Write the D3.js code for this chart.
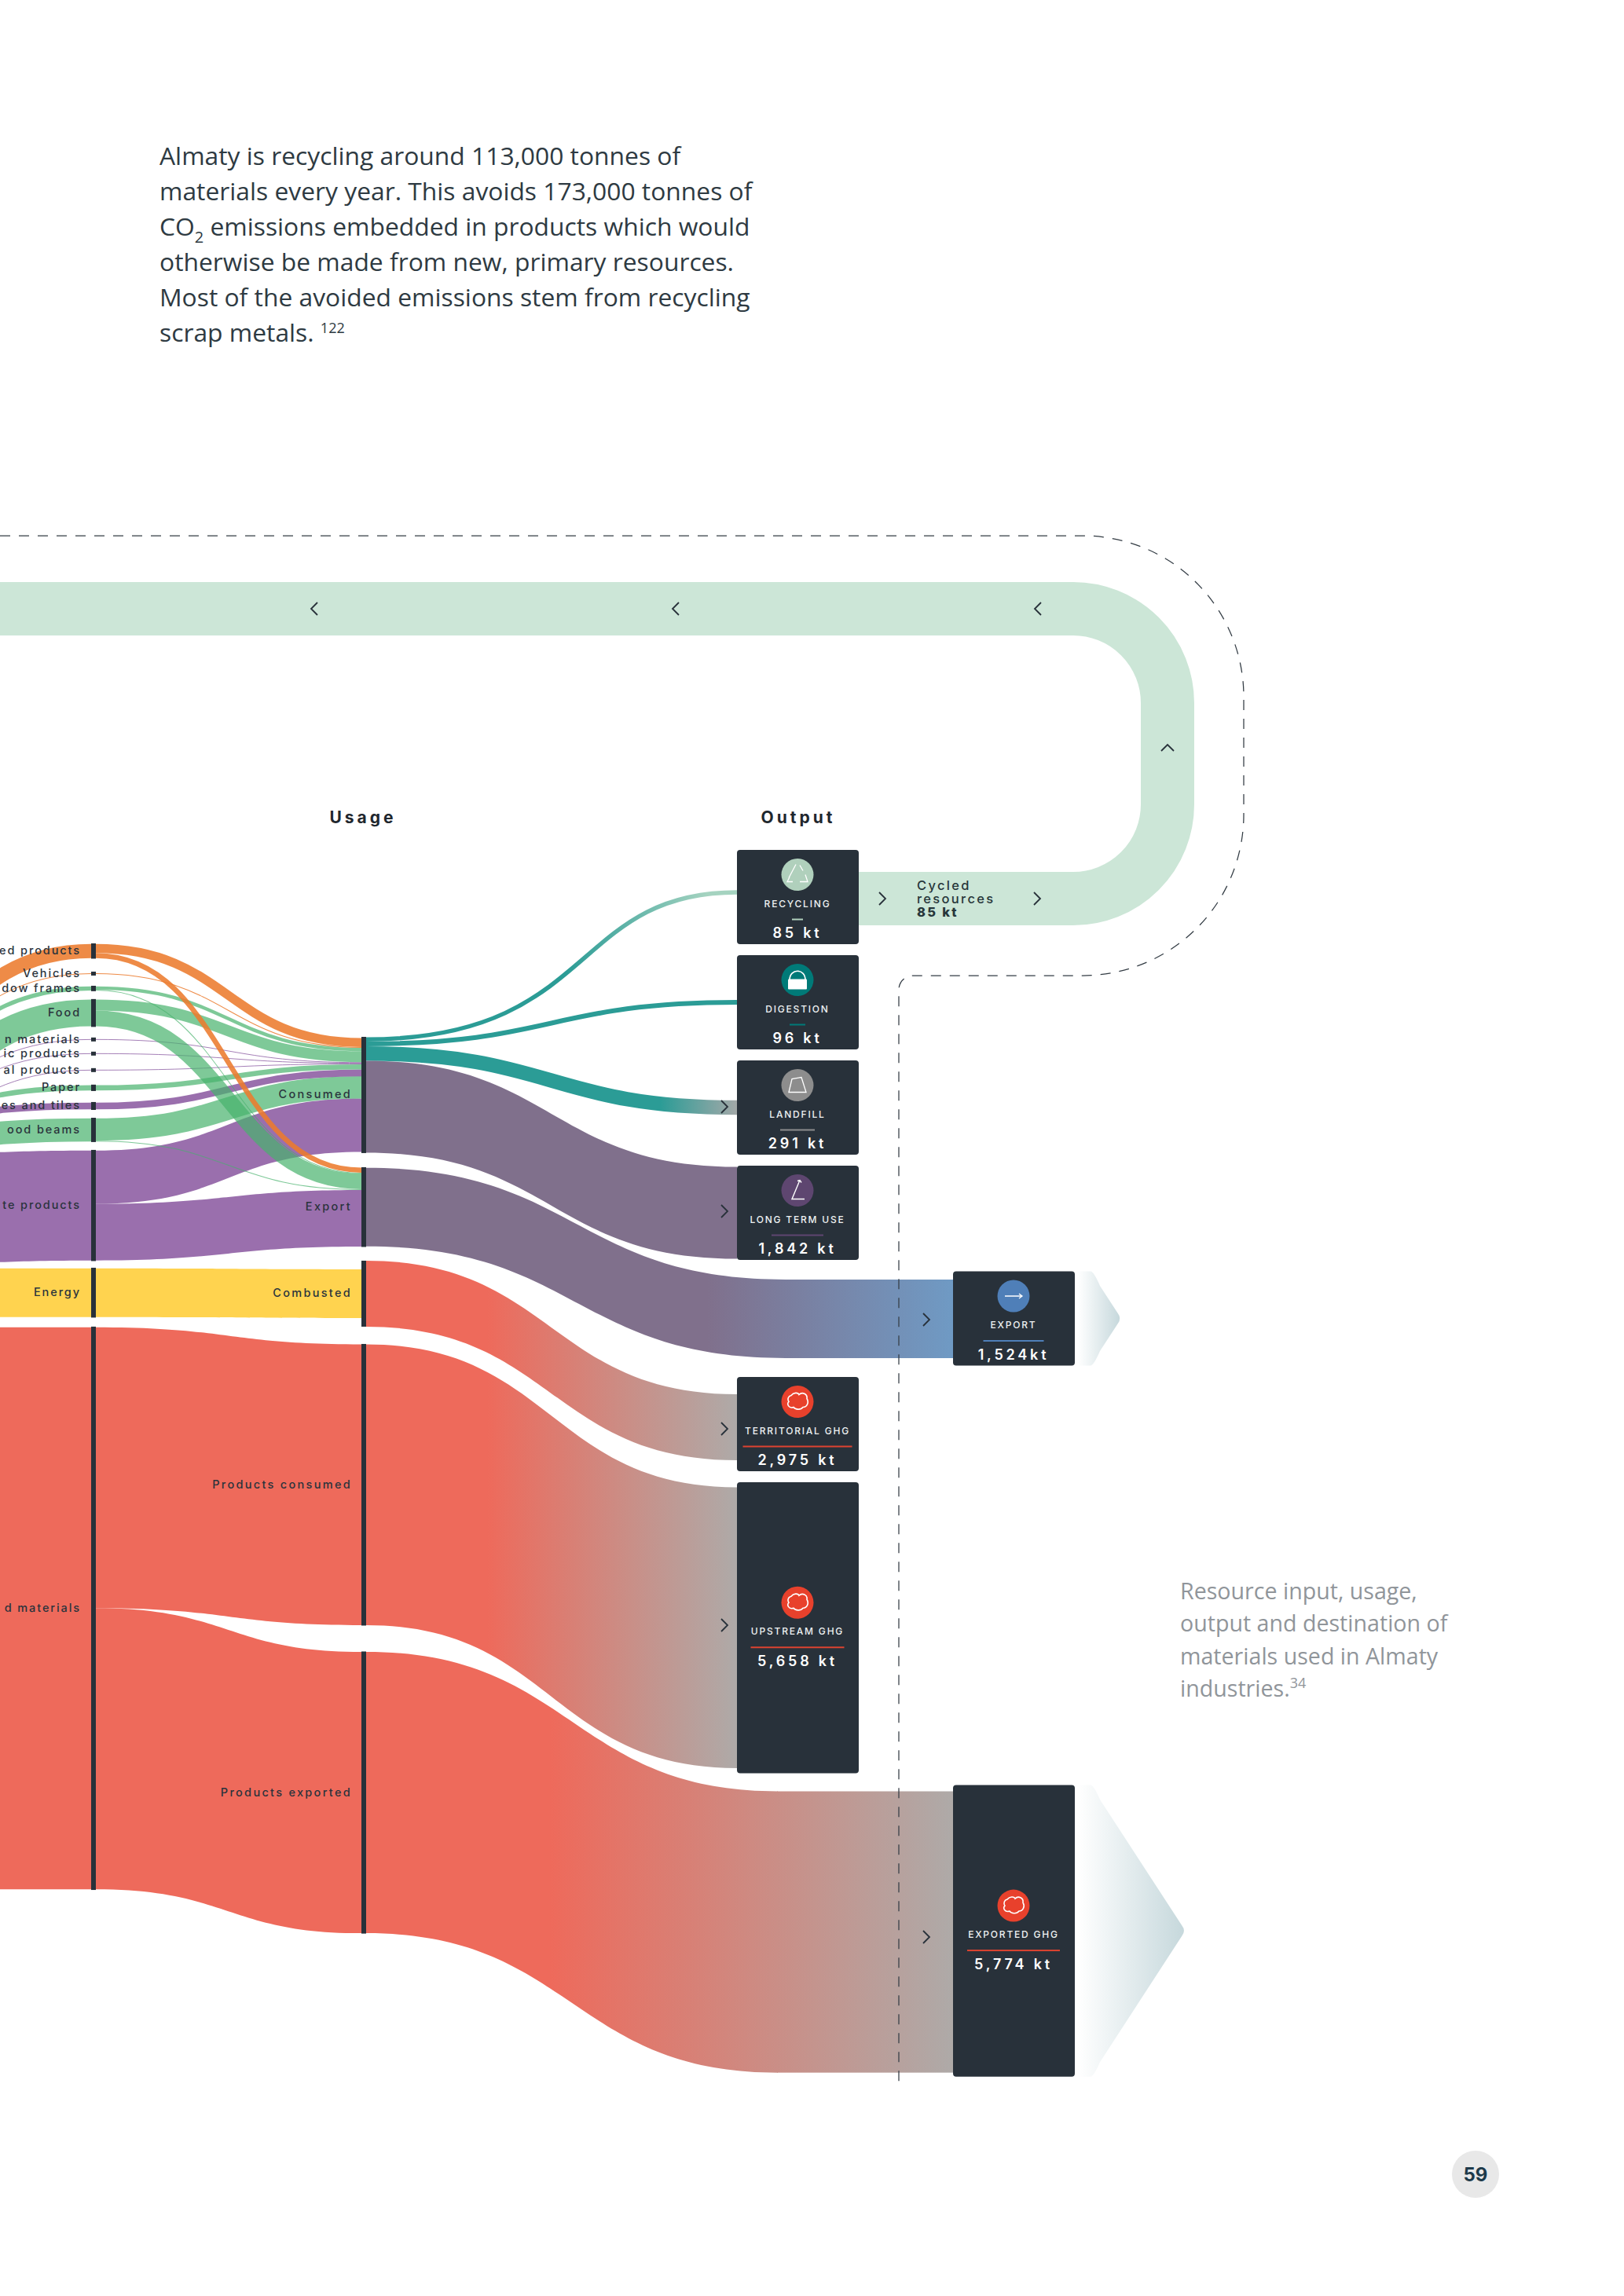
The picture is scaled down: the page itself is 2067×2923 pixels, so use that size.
<!DOCTYPE html>
<html><head><meta charset="utf-8">
<script src="https://cdn.jsdelivr.net/npm/d3@7"></script>
<style>html,body{margin:0;padding:0;background:#fff}svg{display:block}
.lab{font-family:Inter,"Noto Sans",sans-serif}
.body{font-family:"Open Sans",sans-serif}</style></head><body>
<script>
// ---------- DATA (kt) ----------
// Labels are as legible on this page: the left ones run off the page edge in the reference.
const materials = ["ed products","Vehicles","dow frames","Food","n materials","ic products","al products","Paper","es and tiles","ood beams","te products","Energy","d materials"];
const materialGroup = ["orange","orange","green","green","purple","purple","purple","green","purple","green","purple","yellow","red"];
const toConsumed = [181,16,69,220,14,14,14,104,135,447,1071,0,0];
const toExport   = [102,0,16,315,0,0,0,0,0,16,1134,0,0];
const toCombusted = [0,0,0,0,0,0,0,0,0,0,0,976,0];
const toProductsConsumed = [0,0,0,0,0,0,0,0,0,0,0,0,5630];
const toProductsExported = [0,0,0,0,0,0,0,0,0,0,0,0,5640];
const usage = ["Consumed","Export","Combusted","Products consumed","Products exported"];
const outputs = ["RECYCLING","DIGESTION","LANDFILL","LONG TERM USE","TERRITORIAL GHG","UPSTREAM GHG"];
const outputLabels = ["85 kt","96 kt","291 kt","1,842 kt","2,975 kt","5,658 kt"];
const outputFromUsage = [0,0,0,0,2,3];
const outputFlow = [85,96,291,1842,1323,5630];
const destinations = ["EXPORT","EXPORTED GHG"];
const destinationLabels = ["1,524kt","5,774 kt"];
const destinationFromUsage = [1,4];
const destinationFlow = [1575,5640];

// ---------- LAYOUT & STYLE ----------
const W=2067,H=2923;
const pxPerKt = d3.scaleLinear().domain([0,1000]).range([0,63.5]);
const colX = d3.scaleOrdinal(["input","material","usage","output","dest"],[-250,119,463,938,1213]);
const barW=6;
const materialGaps=[0,16.5,13,10,13.5,13,16,16,14,10,10,8.5,11.5];
const materialStart=1201;
const materialLeadIn=[178,156,139,155,122,105,117,50,28,22,12,0,0];
const usageGaps=[0,18,17.5,22,33];
const usageStart=1320;
const outputGaps=[0,14,14,14,149,14];
const outputStart=1082;
const destGaps=[0,534];
const destStart=1618.5;
const outputShift=[-6,0,0,0,4,0];
const destShift=[0.5,1.5];
const redFlow="#ee6a5b";
const groupColor={orange:"rgba(236,123,45,.88)",green:"rgba(71,178,108,.7)",purple:"rgba(136,86,159,.85)",yellow:"#ffd34f",red:redFlow};
const dark="#28313a";
const outputStyle=[
 {from:"#2b9c96",to:"#a5d3c0",fade:[720,900],circle:"#b0d0bc",rule:14,icon:"recycle",bend:[.62,.55]},
 {from:"#2b9c96",to:"#2b9c96",fade:[0,1],circle:"#007a78",rule:20,icon:"lock"},
 {from:"#2b9c96",to:"#a3a8a8",fade:[840,938],circle:"#8d8d8d",rule:44,icon:"landfill"},
 {from:"#80708c",to:"#80708c",fade:[0,1],circle:"#5e4670",rule:66,icon:"angle"},
 {from:redFlow,to:"#aeaaa8",fade:[620,938],circle:"#e8412c",rule:139,icon:"cloud"},
 {from:redFlow,to:"#aeaaa8",fade:[620,938],circle:"#e8412c",rule:119,icon:"cloud"}];
const destStyle=[
 {from:"#80708c",to:"#6f9ac4",fade:[900,1213],circle:"#4f7fb8",rule:77,icon:"arrow"},
 {from:redFlow,to:"#aeaaa8",fade:[700,1213],circle:"#e8412c",rule:118,icon:"cloud"}];

const svg=d3.select("body").append("svg").attr("width",W).attr("height",H).attr("viewBox",`0 0 ${W} ${H}`);
const defs=svg.append("defs");

// ---------- node layout ----------
const sum=a=>d3.sum(a);
const matNodes=materials.map((name,i)=>{
  const flow=pxPerKt(toConsumed[i]+toExport[i]+toCombusted[i]+toProductsConsumed[i]+toProductsExported[i]);
  return {name,flow,h:Math.max(5,flow+1.5),group:materialGroup[i],i,cursor:0};
});
let yy=materialStart;
matNodes.forEach((n,i)=>{yy+=materialGaps[i];n.y=yy;yy+=n.h;n.cursor=n.y+(n.h-n.flow)/2;});
const usageIn=[toConsumed,toExport,toCombusted,toProductsConsumed,toProductsExported];
const usageNodes=usage.map((name,u)=>{
  const inflow=pxPerKt(sum(usageIn[u]));
  const out=pxPerKt(sum(outputFlow.filter((_,o)=>outputFromUsage[o]===u))+sum(destinationFlow.filter((_,o)=>destinationFromUsage[o]===u)));
  return {name,u,inflow,out,h:Math.max(inflow,out)+(u===2?0:1)};
});
yy=usageStart;
usageNodes.forEach((n,i)=>{yy+=usageGaps[i];n.y=yy;yy+=n.h;n.inCursor=n.y+(n.h-n.inflow)/2;n.outCursor=n.y+(n.h-n.out)/2;});
const boxH=v=>{const p=pxPerKt(v);return p<=120?120:p+13;};
yy=outputStart;
const outNodes=outputs.map((name,i)=>{yy+=outputGaps[i];const h=boxH(outputFlow[i]);const n={name,y:yy,h,label:outputLabels[i],st:outputStyle[i]};yy+=h;return n;});
yy=destStart;
const destNodes=destinations.map((name,i)=>{yy+=destGaps[i];const h=boxH(destinationFlow[i]);const n={name,y:yy,h,label:destinationLabels[i],st:destStyle[i]};yy+=h;return n;});

// ---------- link generators ----------
const link=d3.linkHorizontal();
function areaPath(x0,x1,y0,y1,w){
  const p=d3.path(),m=(x0+x1)/2;
  p.moveTo(x0,y0);p.bezierCurveTo(m,y0,m,y1,x1,y1);
  p.lineTo(x1,y1+w);p.bezierCurveTo(m,y1+w,m,y0+w,x0,y0+w);p.closePath();
  return p.toString();
}
function bentPath(x0,x1,y0,y1,b){
  const p=d3.path(),dx=x1-x0;
  p.moveTo(x0,y0);p.bezierCurveTo(x0+b[0]*dx,y0,x0+b[1]*dx,y1,x1,y1);
  return p.toString();
}
const gFlows=svg.append("g");
// Flow drawn as a stroke when narrow, as a band when wide. y0,y1 are band tops.
function drawFlow(x0,x1,y0,y1,w,paint,tail,bend){
  if(tail!==undefined){
    gFlows.append("rect").attr("x",x1-1).attr("y",y1).attr("width",tail-x1+1).attr("height",w).attr("fill",paint);
  }
  if(w<40){
    const d=bend?bentPath(x0,x1,y0+w/2,y1+w/2,bend):link({source:[x0,y0+w/2],target:[x1,y1+w/2]});
    gFlows.append("path").attr("d",d).attr("fill","none").attr("stroke",paint).attr("stroke-width",w);
  } else {
    gFlows.append("path").attr("d",areaPath(x0,x1,y0,y1,w)).attr("fill",paint);
  }
}
// recycle loop
const loopR=120,loopY0=775,loopY1=1144,loopX=1486;
const lp=d3.path();lp.moveTo(1093,loopY1);lp.lineTo(loopX-loopR,loopY1);
lp.arcTo(loopX,loopY1,loopX,loopY1-loopR,loopR);lp.lineTo(loopX,loopY0+loopR);
lp.arcTo(loopX,loopY0,loopX-loopR,loopY0,loopR);lp.lineTo(0,loopY0);
gFlows.append("path").attr("d",lp.toString()).attr("fill","none").attr("stroke","#cce6d7").attr("stroke-width",68);

// lead-in links from the off-page column
const inX=colX("input"),matX=colX("material")-barW/2,matXR=colX("material")+barW/2,useX=colX("usage")-barW/2,useXR=colX("usage")+barW/2,outX=colX("output"),dstX=colX("dest");
matNodes.forEach((n,i)=>{
  if(n.flow<=0)return;
  drawFlow(inX,matX,n.cursor+materialLeadIn[i],n.cursor,n.flow,groupColor[n.group]);
});
// material -> usage links
const matRows=[[toConsumed,0],[toExport,1],[toCombusted,2],[toProductsConsumed,3],[toProductsExported,4]];
const pending=[];
matRows.forEach(([vals,u])=>{
  vals.forEach((v,i)=>{
    if(v<=0)return;
    const w=pxPerKt(v),n=matNodes[i],t=usageNodes[u];
    pending.push({u,i,w,y0:n.cursor,y1:t.inCursor,color:groupColor[n.group]});
    n.cursor+=w;t.inCursor+=w;
  });
});
pending.sort((a,b)=>(a.u-b.u)||(b.i-a.i));
pending.forEach(l=>drawFlow(matXR,useX,l.y0,l.y1,l.w,l.color));
// gradients
function paintFor(id,st){
  if(st.from===st.to)return st.from;
  const g=defs.append("linearGradient").attr("id",id).attr("gradientUnits","userSpaceOnUse")
    .attr("x1",st.fade[0]).attr("x2",st.fade[1]).attr("y1",0).attr("y2",0);
  g.append("stop").attr("offset",0).attr("stop-color",st.from);
  g.append("stop").attr("offset",1).attr("stop-color",st.to);
  return `url(#${id})`;
}
// usage -> output
outNodes.forEach((o,i)=>{
  const t=usageNodes[outputFromUsage[i]],w=pxPerKt(outputFlow[i]);
  const y1=o.y+o.h/2-w/2+outputShift[i];
  drawFlow(useXR,outX,t.outCursor,y1,w,paintFor("og"+i,o.st),undefined,o.st.bend);
  t.outCursor+=w;
});
// usage -> destination (curve settles before reaching the output column, then runs straight)
const settleX=d3.scaleOrdinal([0,1],[1000,990]);
destNodes.forEach((o,i)=>{
  const t=usageNodes[destinationFromUsage[i]],w=pxPerKt(destinationFlow[i]);
  const y1=o.y+o.h/2-w/2+destShift[i];
  drawFlow(useXR,settleX(i),t.outCursor,y1,w,paintFor("dg"+i,o.st),dstX);
  t.outCursor+=w;
});

// ---------- nodes ----------
const gNodes=svg.append("g");
gNodes.selectAll(".m").data(matNodes).join("rect").attr("x",matX).attr("width",barW).attr("y",d=>d.y).attr("height",d=>d.h).attr("fill",dark);
gNodes.selectAll(".u").data(usageNodes).join("rect").attr("x",useX).attr("width",barW).attr("y",d=>d.y).attr("height",d=>d.h).attr("fill",dark);

// ---------- dashed boundary ----------
const dp=d3.path();const dR=205,dTop=682,dBot=1242,dRight=1583,dLeft=1144;
dp.moveTo(0,dTop);dp.lineTo(dRight-dR,dTop);dp.arcTo(dRight,dTop,dRight,dTop+dR,dR);dp.lineTo(dRight,dBot-dR);
dp.arcTo(dRight,dBot,dRight-dR,dBot,dR);dp.lineTo(dLeft+18,dBot);dp.arcTo(dLeft,dBot,dLeft,dBot+18,18);dp.lineTo(dLeft,2655);
svg.append("path").attr("d",dp.toString()).attr("fill","none").attr("stroke","#333c44").attr("stroke-width",1.25).attr("stroke-dasharray","13 11");

// ---------- destination tails ----------
defs.append("linearGradient").attr("id","tail").attr("gradientUnits","objectBoundingBox").attr("x1",0).attr("x2",1).attr("y1",0).attr("y2",0)
  .call(g=>{g.append("stop").attr("offset",0).attr("stop-color","#fff");g.append("stop").attr("offset",1).attr("stop-color","#c6d8dc");});
destNodes.forEach(o=>{
  const x0=1372,s=1388,top=o.y,bot=o.y+o.h,mid=o.y+o.h/2,tip=s+o.h/2*0.65;
  const c=d3.path();const dx=(tip-s),dy=o.h/2;const f=8/Math.hypot(dx,dy);const f2=22/Math.hypot(dx,dy);
  c.moveTo(x0,top);c.lineTo(s,top);c.quadraticCurveTo(s+4,top,s+dx*f2,top+dy*f2);
  c.lineTo(tip-dx*f,mid-dy*f);c.quadraticCurveTo(tip+1,mid,tip-dx*f,mid+dy*f);
  c.lineTo(s+dx*f2,bot-dy*f2);c.quadraticCurveTo(s+4,bot,s,bot);c.lineTo(x0,bot);c.closePath();
  svg.append("path").attr("d",c.toString()).attr("fill","url(#tail)");
});

// ---------- boxes ----------
const icons={
 recycle:g=>{g.append("path").attr("d","M-2,-13 L-11,4 M3,-12 L7,-5 M10,0 L13,9 L3,9 M-6,9 L-13,9 L-10,3").attr("fill","none").attr("stroke","#fff").attr("stroke-width",1.3);},
 lock:g=>{g.append("path").attr("d","M-10,0 C-10,-15 10,-15 10,0").attr("fill","none").attr("stroke","#fff").attr("stroke-width",1.6);
          g.append("rect").attr("x",-12).attr("y",-1).attr("width",24).attr("height",13).attr("rx",1).attr("fill","#fff");},
 landfill:g=>{g.append("path").attr("d","M-11,9 L-7,-8 L5,-10 L11,9 Z").attr("fill","none").attr("stroke","#fff").attr("stroke-width",1.3);},
 angle:g=>{g.append("path").attr("d","M3,-13 L-7,11 L9,11 M0,-12 L3,-13 L5,-10").attr("fill","none").attr("stroke","#fff").attr("stroke-width",1.4);},
 arrow:g=>{g.append("path").attr("d","M-11,0 H11 M7,-3 L11,0 L7,3").attr("fill","none").attr("stroke","#fff").attr("stroke-width",1.3);},
 cloud:g=>{g.append("path").attr("d","M-8,-8 C-5,-12 1,-12 2,-9 C6,-13 13,-10 12,-4 C15,1 12,7 7,7 C4,11 -3,10 -5,7 C-11,9 -14,3 -11,0 C-13,-3 -12,-7 -8,-8Z").attr("fill","none").attr("stroke","#fff").attr("stroke-width",1.6);}
};
const boxW=155;
function drawBox(o,x){
  const g=svg.append("g");
  g.append("rect").attr("x",x).attr("y",o.y).attr("width",boxW).attr("height",o.h).attr("rx",4).attr("fill",dark);
  const tall=o.h>130, top=tall?o.y+o.h/2-63.5:o.y, cx=x+boxW/2-0.5;
  const ic=g.append("g").attr("transform",`translate(${cx},${top+31.5})`);
  ic.append("circle").attr("r",20.5).attr("fill",o.st.circle);
  icons[o.st.icon](ic);
  g.append("text").attr("class","lab").attr("x",cx).attr("y",top+68).attr("text-anchor","middle").attr("dominant-baseline","central")
    .attr("font-size",12).attr("font-weight",500).attr("letter-spacing",1.8).attr("fill","#eef1f2").text(o.name);
  g.append("rect").attr("x",cx-o.st.rule/2).attr("y",top+87.5).attr("width",o.st.rule).attr("height",2).attr("fill",o.st.circle==="#e8412c"?"#dd4330":o.st.circle);
  g.append("text").attr("class","lab").attr("x",cx).attr("y",top+105.5).attr("text-anchor","middle").attr("dominant-baseline","central")
    .attr("font-size",18).attr("font-weight",600).attr("letter-spacing",3.8).attr("fill","#fff").text(o.label);
}
outNodes.forEach(o=>drawBox(o,outX));
destNodes.forEach(o=>drawBox(o,dstX));

// ---------- labels ----------
const labelColor="#2a333c";
svg.selectAll(".ml").data(matNodes).join("text").attr("class","lab").attr("x",103).attr("y",d=>d.y+d.h/2-1)
  .attr("text-anchor","end").attr("dominant-baseline","central").attr("font-size",14.5).attr("font-weight",500).attr("letter-spacing",1.9).attr("fill",labelColor).text(d=>d.name);
svg.selectAll(".ul").data(usageNodes).join("text").attr("class","lab").attr("x",448).attr("y",d=>d.y+d.h/2-1)
  .attr("text-anchor","end").attr("dominant-baseline","central").attr("font-size",14.5).attr("font-weight",500).attr("letter-spacing",2.3).attr("fill",labelColor).text(d=>d.name);
[["Usage",462],["Output",1016]].forEach(([t,x])=>{
  svg.append("text").attr("class","lab").attr("x",x).attr("y",1040).attr("text-anchor","middle").attr("dominant-baseline","central")
    .attr("font-size",21).attr("font-weight",700).attr("letter-spacing",4).attr("fill","#1f272e").text(t);
});
const cyc=["Cycled","resources","85 kt"];
cyc.forEach((t,i)=>{
  svg.append("text").attr("class","lab").attr("x",1167).attr("y",1126.5+i*17.3).attr("dominant-baseline","central")
    .attr("font-size",16.5).attr("font-weight",i===2?800:500).attr("letter-spacing",2.3).attr("fill","#27363a").text(t);
});

// ---------- chevrons ----------
function chevron(x,y,rot){
  svg.append("path").attr("transform",`translate(${x},${y}) rotate(${rot})`).attr("d","M-4,-8 L4,0 L-4,8").attr("fill","none").attr("stroke","#28313a").attr("stroke-width",1.8);
}
const chevronX=[922,922,1179,922,922,1179,1123,1320,1486,1321,860,400];
const chevronY=[1409,1542,1680,1819,2069,2466,1144,1144,952,775,775,775];
const chevronR=[0,0,0,0,0,0,0,0,-90,180,180,180];
chevronX.forEach((x,i)=>chevron(x,chevronY[i],chevronR[i]));

// ---------- prose ----------
const intro=["Almaty is recycling around 113,000 tonnes of","materials every year. This avoids 173,000 tonnes of",null,"otherwise be made from new, primary resources.","Most of the avoided emissions stem from recycling",null];
intro.forEach((t,i)=>{
  const e=svg.append("text").attr("class","body").attr("x",203).attr("y",209.5+i*45).attr("font-size",31.8).attr("fill","#2e3a42");
  if(i===2){e.append("tspan").text("CO");e.append("tspan").attr("font-size",20).attr("dy",9).text("2");e.append("tspan").attr("dy",-9).text(" emissions embedded in products which would");}
  else if(i===5){e.append("tspan").text("scrap metals. ");e.append("tspan").attr("font-size",18).attr("dy",-11).text(" 122");}
  else e.text(t);
});
const side=["Resource input, usage,","output and destination of","materials used in Almaty",null];
side.forEach((t,i)=>{
  const e=svg.append("text").attr("class","body").attr("x",1502).attr("y",2036+i*41.4).attr("font-size",28.6).attr("fill","#90959a");
  if(i===3){e.append("tspan").text("industries.");e.append("tspan").attr("font-size",18).attr("dy",-11).text("34");}
  else e.text(t);
});
svg.append("circle").attr("cx",1878).attr("cy",2768).attr("r",30).attr("fill","#e8e8e8");
svg.append("text").attr("class","lab").attr("x",1878).attr("y",2768).attr("text-anchor","middle").attr("dominant-baseline","central")
  .attr("font-size",24).attr("font-weight",700).attr("fill","#1d3a4a").text("59");
</script></body></html>
